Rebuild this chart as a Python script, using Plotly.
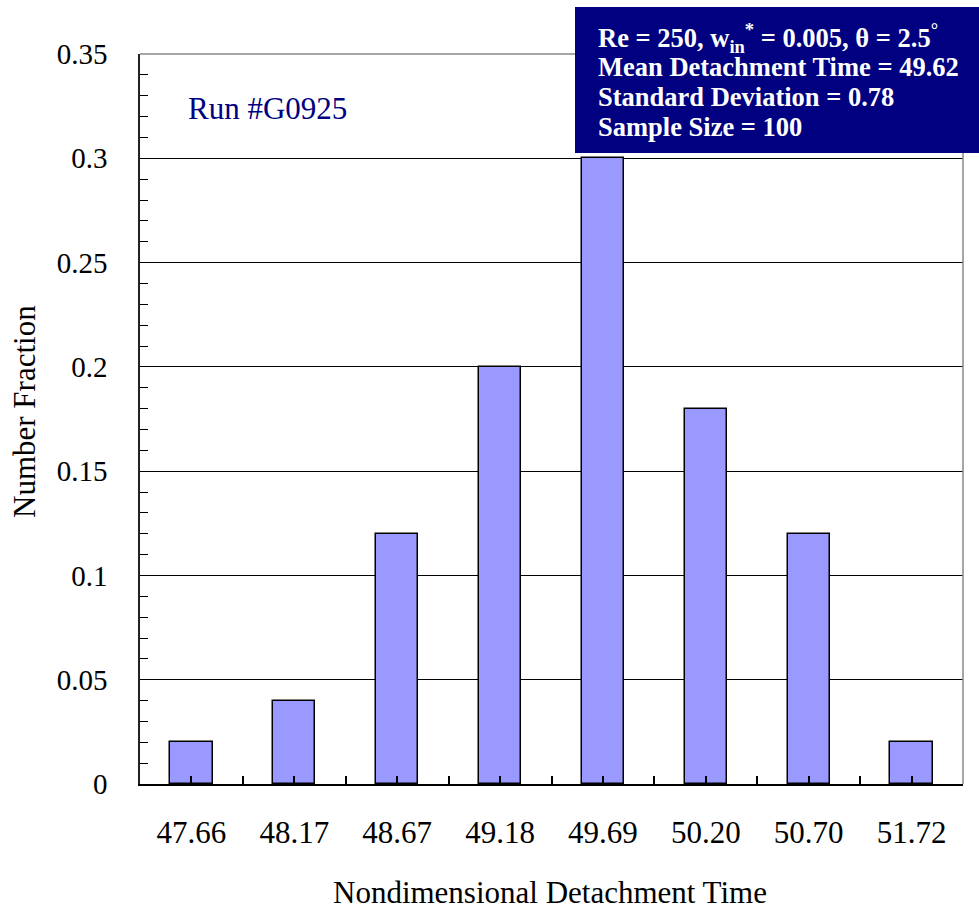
import plotly.graph_objects as go

# Histogram of nondimensional detachment times
bin_labels = ["47.66", "48.17", "48.67", "49.18", "49.69", "50.20", "50.70", "51.72"]
fractions = [0.02, 0.04, 0.12, 0.20, 0.30, 0.18, 0.12, 0.02]

x_pos = list(range(len(bin_labels)))
serif = "Liberation Serif, Times New Roman, serif"

# Plot area in pixels
W, H = 979, 909
L, R, T, B = 140, 16, 54, 125
PW, PH = W - L - R, H - T - B


def px_x(x):
    return (x - L) / PW


def px_y(y):
    return (H - B - y) / PH


fig = go.Figure(
    go.Bar(
        x=x_pos,
        y=fractions,
        width=0.41,
        marker=dict(color="#9999FF", line=dict(color="black", width=1.5)),
    )
)

fig.update_layout(
    width=W,
    height=H,
    margin=dict(l=L, r=R, t=T, b=B),
    plot_bgcolor="white",
    paper_bgcolor="white",
    showlegend=False,
    font=dict(family=serif, color="black", size=31),
    bargap=0,
)

# Ticks at bin centres (labelled) and bin edges (unlabelled)
tick_vals, tick_text = [], []
for i in range(len(bin_labels) + 1):
    tick_vals.append(i - 0.5)
    tick_text.append("")
    if i < len(bin_labels):
        tick_vals.append(i)
        tick_text.append(bin_labels[i])

fig.update_xaxes(
    range=[-0.5, 7.5],
    tickmode="array",
    tickvals=tick_vals,
    ticktext=tick_text,
    ticks="inside",
    ticklen=8,
    tickwidth=1.5,
    tickcolor="black",
    showline=True,
    linecolor="black",
    linewidth=1.5,
    showgrid=False,
    zeroline=False,
    layer="above traces",
    ticklabelstandoff=20,
    tickfont=dict(size=31),
)

fig.update_yaxes(
    range=[0, 0.35],
    tickmode="linear",
    tick0=0,
    dtick=0.05,
    ticks="inside",
    ticklen=8,
    tickwidth=1.2,
    tickcolor="black",
    showline=True,
    linecolor="#222222",
    linewidth=1.5,
    showgrid=True,
    gridcolor="black",
    gridwidth=1,
    zeroline=False,
    ticklabelstandoff=25,
    tickfont=dict(size=29),
    minor=dict(
        dtick=0.01,
        ticks="inside",
        ticklen=8,
        tickwidth=1.2,
        tickcolor="black",
        showgrid=False,
    ),
)

# Axis titles
fig.add_annotation(
    text="Nondimensional Detachment Time",
    xref="paper", yref="paper", x=px_x(550), y=px_y(892),
    xanchor="center", yanchor="middle", showarrow=False,
    font=dict(family=serif, size=31, color="black"),
)
fig.add_annotation(
    text="Number Fraction",
    xref="paper", yref="paper", x=px_x(24), y=px_y(412),
    xanchor="center", yanchor="middle", showarrow=False, textangle=-90,
    font=dict(family=serif, size=31, color="black"),
)

# Frame on top and right edges
fig.add_shape(type="line", xref="paper", yref="paper", x0=0, x1=1, y0=1, y1=1,
              line=dict(color="#888888", width=1.5))
fig.add_shape(type="line", xref="paper", yref="paper", x0=1, x1=1, y0=0, y1=1,
              line=dict(color="#888888", width=1.5))

fig.add_annotation(
    text="Run #G0925",
    xref="paper", yref="paper",
    x=px_x(186), y=px_y(108),
    xanchor="left", yanchor="middle",
    showarrow=False,
    font=dict(family=serif, size=31, color="#000080"),
)

# Statistics box
fig.add_shape(type="rect", xref="paper", yref="paper",
              x0=px_x(575), x1=px_x(985), y0=px_y(7), y1=px_y(153),
              fillcolor="#000080", line=dict(width=0), layer="above")

stat_lines = [
    "<b>Re = 250, w<sub>in</sub><sup>*</sup> = 0.005, θ = 2.5<sup>°</sup></b>",
    "<b>Mean Detachment Time = 49.62</b>",
    "<b>Standard Deviation = 0.78</b>",
    "<b>Sample Size = 100</b>",
]
line_y = [38, 67, 97, 127]
for txt, yy in zip(stat_lines, line_y):
    fig.add_annotation(
        text=txt,
        xref="paper", yref="paper",
        x=px_x(596), y=px_y(yy),
        xanchor="left", yanchor="middle",
        showarrow=False,
        font=dict(family=serif, size=26.5, color="white"),
    )

fig.write_html("out.html")
